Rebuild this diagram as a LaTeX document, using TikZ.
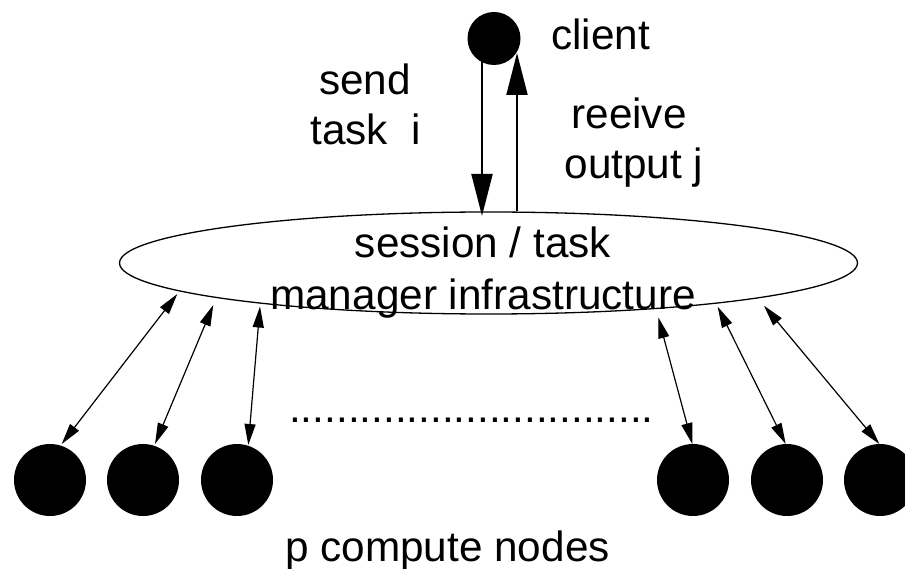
\documentclass[tikz,border=0pt]{standalone}
\usepackage{fontspec}
\setmainfont{Liberation Sans}
\usetikzlibrary{arrows.meta,shapes.geometric}
\begin{document}
\begin{tikzpicture}[x=1pt,y=-1pt,
  dot/.style={circle,fill=black,inner sep=0pt,outer sep=0pt},
  lbl/.style={inner sep=0pt,anchor=base,font=\fontsize{42.3}{50}\selectfont},
  big/.style={line width=2pt,-{Triangle[length=42pt,width=21pt]}},
  link/.style={line width=1.2pt,{Triangle[length=21pt,width=11pt]}-{Triangle[length=21pt,width=11pt]}}
]
\useasboundingbox (0,0) rectangle (905,569);
% client
\node[dot,minimum size=53pt] (client) at (494,38.5) {};
% manager ellipse
\node[draw,ellipse,line width=1.3pt,minimum width=738pt,minimum height=102pt,inner sep=0pt] (mgr) at (488.5,263) {};
% compute nodes
\node[dot,minimum size=72pt] (c1) at (50,480) {};
\node[dot,minimum size=72pt] (c2) at (143,480) {};
\node[dot,minimum size=72pt] (c3) at (237,480) {};
\node[dot,minimum size=72pt] (c4) at (693,480) {};
\node[dot,minimum size=72pt] (c5) at (787,480) {};
\node[dot,minimum size=72pt] (c6) at (880,480) {};
% texts
\node[lbl,anchor=base west] (tclient) at (551,50) {client};
\node[lbl] (tsend) at (365,95) {send};
\node[lbl] (ttask) at (365.5,145) {task~~i};
\node[lbl] (trec) at (629,129) {reeive};
\node[lbl] (tout) at (634,179) {output j};
\node[lbl] (tses) at (483,258) {session / task};
\node[lbl] (tmgr) at (483,310) {manager infrastructure};
\node[lbl,anchor=base west] (tdots) at (289,422) {...............................};
\node[lbl] (tp) at (447.5,561) {p compute nodes};
% client arrows
\coordinate (d1) at (482,216);
\coordinate (u1) at (517,53);
\draw[big] (client.center -| d1) -- (d1);
\draw[big] (mgr.north -| u1) -- (u1);
% links
\coordinate (t1) at (177.3,294);  \coordinate (b1) at (61.7,444);
\coordinate (t2) at (213.3,305);  \coordinate (b2) at (155,444);
\coordinate (t3) at (260,306.5);  \coordinate (b3) at (248.3,445);
\coordinate (t4) at (658.3,317.3);\coordinate (b4) at (692.3,444);
\coordinate (t5) at (717.7,306.7);\coordinate (b5) at (785.7,444);
\coordinate (t6) at (764,305.7);  \coordinate (b6) at (879.3,444);
\draw[link] (t1) -- (b1);
\draw[link] (t2) -- (b2);
\draw[link] (t3) -- (b3);
\draw[link] (t4) -- (b4);
\draw[link] (t5) -- (b5);
\draw[link] (t6) -- (b6);
\end{tikzpicture}
\end{document}
